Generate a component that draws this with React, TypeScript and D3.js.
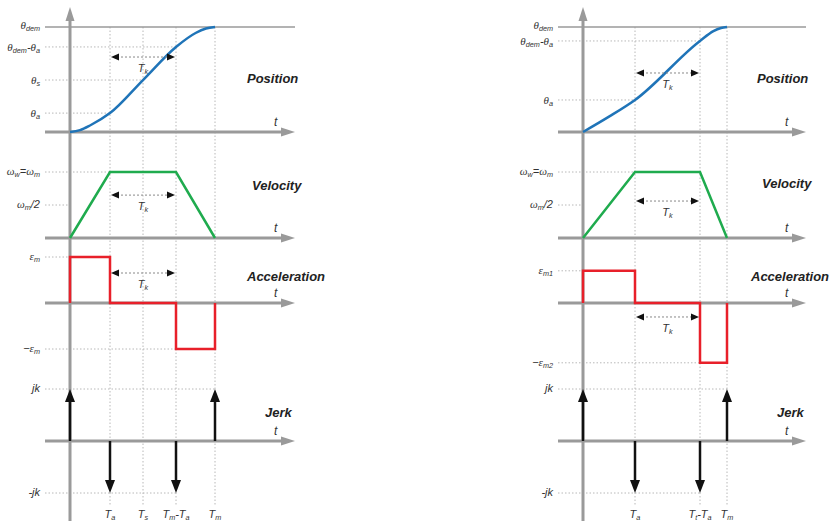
import React from "react";
import * as d3 from "d3";

// ---------- Left profile (symmetric) ----------
const leftTimes = [0, 1, 1.825, 2.65, 3.625];
const leftTimeLabels = ["", "T_{a}", "T_{s}", "T_{m}-T_{a}", "T_{m}"];
const leftPosT = [0, 0.25, 0.5, 1, 1.825, 2.65, 3.14, 3.4, 3.625];
const leftPosV = [0, 0.018, 0.062, 0.18, 0.495, 0.81, 0.943, 0.985, 1];
const leftPosTicks = [0.18, 0.495, 0.81, 1];
const leftPosTickEnds = [1, 1.825, 2.65, 3.625];
const leftPosLabels = ["θ_{a}", "θ_{s}", "θ_{dem}-θ_{a}", "θ_{dem}"];
const leftVelT = [0, 1, 2.65, 3.625];
const leftVelV = [0, 1, 1, 0];
const leftVelTicks = [1, 0.5];
const leftVelTickEnds = [1, 0];
const leftVelLabels = ["ω_{w}=ω_{m}", "ω_{m}/2"];
const leftAccT = [0, 0, 1, 1, 2.65, 2.65, 3.625, 3.625];
const leftAccV = [0, 1, 1, 0, 0, -1, -1, 0];
const leftAccTicks = [1, -1];
const leftAccTickEnds = [0, 2.65];
const leftAccLabels = ["ε_{m}", "−ε_{m}"];
const leftJerkT = [0, 1, 2.65, 3.625];
const leftJerkV = [1, -1, -1, 1];
const leftJerkTickEnds = [3.625, 2.65];
const leftTk = { from: 1, to: 2.65, pos: 0.714, vel: 0.65, acc: 0.652 };

// ---------- Right profile (asymmetric) ----------
const rightTimes = [0, 1.3, 2.925, 3.6];
const rightTimeLabels = ["", "T_{a}", "T_{t}-T_{a}", "T_{m}"];
const rightPosT = [0, 0.65, 1.3, 2.925, 3.26, 3.45, 3.6];
const rightPosV = [0, 0.146, 0.305, 0.867, 0.96, 0.99, 1];
const rightPosTicks = [0.305, 0.867, 1];
const rightPosTickEnds = [1.3, 2.925, 3.6];
const rightPosLabels = ["θ_{a}", "θ_{dem}-θ_{a}", "θ_{dem}"];
const rightVelT = [0, 1.3, 2.925, 3.6];
const rightVelV = [0, 1, 1, 0];
const rightVelTicks = [1, 0.5];
const rightVelTickEnds = [1.3, 0];
const rightVelLabels = ["ω_{w}=ω_{m}", "ω_{m}/2"];
const rightAccT = [0, 0, 1.3, 1.3, 2.925, 2.925, 3.6, 3.6];
const rightAccV = [0, 0.7, 0.7, 0, 0, -1.3, -1.3, 0];
const rightAccTicks = [0.7, -1.3];
const rightAccTickEnds = [0, 2.925];
const rightAccLabels = ["ε_{m1}", "−ε_{m2}"];
const rightJerkT = [0, 1.3, 2.925, 3.6];
const rightJerkV = [1, -1, -1, 1];
const rightJerkTickEnds = [3.6, 2.925];
const rightTk = { from: 1.3, to: 2.925, pos: 0.562, vel: 0.56, acc: -0.304 };

const jerkTicks = [1, -1];
const jerkLabels = ["jk", "-jk"];
const titles = ["Position", "Velocity", "Acceleration", "Jerk"];

const AXIS = "#9a9a9a";
const GRID = "#b8b8b8";
const FONT = "'Liberation Sans', Arial, sans-serif";
const GREEK = "'Liberation Serif', 'DejaVu Serif', serif";

function Label({ s, x, y, anchor = "end", size = 11 }: any) {
  const parts: { t: string; sub: boolean }[] = [];
  const re = /_\{([^}]*)\}/g;
  let last = 0;
  let m: RegExpExecArray | null;
  while ((m = re.exec(s))) {
    if (m.index > last) parts.push({ t: s.slice(last, m.index), sub: false });
    parts.push({ t: m[1], sub: true });
    last = m.index + m[0].length;
  }
  if (last < s.length) parts.push({ t: s.slice(last), sub: false });
  let cur = 0;
  const pieces: any[] = [];
  parts.forEach((p, i) => {
    const target = p.sub ? 2 : 0;
    const dy = target - cur;
    cur = target;
    if (p.sub) {
      pieces.push(
        <tspan key={i + "s"} dy={dy} fontSize={size * 0.66}>
          {p.t}
        </tspan>
      );
    } else {
      const chunks = p.t.split(/([θωε])/).filter((c) => c.length);
      chunks.forEach((c, j) => {
        const isGreek = /[θωε]/.test(c);
        pieces.push(
          <tspan key={i + "-" + j} dy={j === 0 ? dy : 0} fontFamily={isGreek ? GREEK : FONT} fontSize={size}>
            {c}
          </tspan>
        );
      });
    }
  });
  return (
    <text x={x} y={y} textAnchor={anchor} fontFamily={FONT} fontStyle="italic" fontSize={size} fill="#333">
      {pieces}
    </text>
  );
}

function Panel({ cfg }: any) {
  const x = d3.scaleLinear().domain([0, cfg.times[cfg.times.length - 1]]).range([cfg.x0, cfg.xm]);
  const yPos = d3.scaleLinear().domain([0, 1]).range([132, 27]);
  const yVel = d3.scaleLinear().domain([0, 1]).range([238, 172]);
  const yAcc = d3.scaleLinear().domain([0, 1]).range([303, 257]);
  const yJerk = d3.scaleLinear().domain([0, 1]).range([441, 389]);
  const ax0 = cfg.x0 - 25;
  const ax1 = cfg.axEnd;
  const labelX = cfg.x0 - 30;
  const gridEnd = 505;

  const posLine = d3
    .line<number>()
    .x((_, i) => x(cfg.posT[i]))
    .y((v) => yPos(v))
    .curve(d3.curveMonotoneX)(cfg.posV) as string;
  const velLine = d3
    .line<number>()
    .x((_, i) => x(cfg.velT[i]))
    .y((v) => yVel(v))(cfg.velV) as string;
  const accLine = d3
    .line<number>()
    .x((_, i) => x(cfg.accT[i]))
    .y((v) => yAcc(v))(cfg.accV) as string;

  const hAxis = (y: number, key: string) => (
    <g key={key}>
      <line x1={ax0} x2={ax1 - 10} y1={y} y2={y} stroke={AXIS} strokeWidth={3} />
      <path d={`M${ax1},${y} L${ax1 - 14},${y - 4.5} L${ax1 - 14},${y + 4.5} Z`} fill={AXIS} />
      <text x={ax1 - 21} y={y - 6} fontFamily={FONT} fontStyle="italic" fontSize={12} fill="#333">
        t
      </text>
    </g>
  );

  const tkArrow = (y: number, key: string) => {
    const a = x(cfg.tk.from);
    const b = x(cfg.tk.to);
    return (
      <g key={key}>
        <line x1={a + 7} x2={b - 7} y1={y} y2={y} stroke="#888" strokeWidth={1} strokeDasharray="2,2" />
        <path d={`M${a + 1},${y} L${a + 9},${y - 3.5} L${a + 9},${y + 3.5} Z`} fill="#111" />
        <path d={`M${b - 1},${y} L${b - 9},${y - 3.5} L${b - 9},${y + 3.5} Z`} fill="#111" />
        <Label s="T_{k}" x={(a + b) / 2} y={y + 15} anchor="middle" size={11} />
      </g>
    );
  };

  const dotted = (y: number, tEnd: number, key: string) => (
    <line key={key} x1={ax0} x2={x(tEnd)} y1={y} y2={y} stroke={GRID} strokeWidth={1} strokeDasharray="1.5,2" />
  );

  return (
    <g>
      {cfg.times.slice(1).map((t: number, i: number) => (
        <line key={"vg" + i} x1={x(t)} x2={x(t)} y1={27} y2={gridEnd} stroke={GRID} strokeWidth={1} strokeDasharray="1.5,2" />
      ))}
      {cfg.posTicks.map((v: number, i: number) =>
        v === 1 ? (
          <line key={"pd" + i} x1={ax0} x2={ax1} y1={yPos(v)} y2={yPos(v)} stroke={AXIS} strokeWidth={1.5} />
        ) : (
          dotted(yPos(v), cfg.posTickEnds[i], "pd" + i)
        )
      )}
      {cfg.velTicks.map((v: number, i: number) => dotted(yVel(v), cfg.velTickEnds[i], "vd" + i))}
      {cfg.accTicks.map((v: number, i: number) => dotted(yAcc(v), cfg.accTickEnds[i], "ad" + i))}
      {jerkTicks.map((v: number, i: number) => dotted(yJerk(v), cfg.jerkTickEnds[i], "jd" + i))}

      <line x1={cfg.x0} x2={cfg.x0} y1={18} y2={521} stroke={AXIS} strokeWidth={3} />
      <path d={`M${cfg.x0},7 L${cfg.x0 - 4.5},21 L${cfg.x0 + 4.5},21 Z`} fill={AXIS} />

      {hAxis(yPos(0), "hp")}
      {hAxis(yVel(0), "hv")}
      {hAxis(yAcc(0), "ha")}
      {hAxis(yJerk(0), "hj")}

      <path d={posLine} fill="none" stroke="#1f74b8" strokeWidth={2.5} />
      <path d={velLine} fill="none" stroke="#1fab4e" strokeWidth={2.5} />
      <path d={accLine} fill="none" stroke="#e8202a" strokeWidth={2.5} strokeLinejoin="miter" />

      {cfg.jerkT.map((t: number, i: number) => {
        const xx = x(t);
        const y0 = yJerk(0);
        const y1 = yJerk(cfg.jerkV[i]);
        const dir = y1 < y0 ? 1 : -1;
        return (
          <g key={"jk" + i}>
            <line x1={xx} x2={xx} y1={y0} y2={y1 + dir * 8} stroke="#111" strokeWidth={2.5} />
            <path d={`M${xx},${y1} L${xx - 5},${y1 + dir * 13} L${xx + 5},${y1 + dir * 13} Z`} fill="#111" />
          </g>
        );
      })}

      {tkArrow(yPos(cfg.tk.pos), "tkp")}
      {tkArrow(yVel(cfg.tk.vel), "tkv")}
      {tkArrow(yAcc(cfg.tk.acc), "tka")}

      {cfg.posTicks.map((v: number, i: number) => (
        <Label key={"pl" + i} s={cfg.posLabels[i]} x={labelX} y={yPos(v) + (v === 1 ? 2 : 4)} />
      ))}
      {cfg.velTicks.map((v: number, i: number) => (
        <Label key={"vl" + i} s={cfg.velLabels[i]} x={labelX} y={yVel(v) + 3} />
      ))}
      {cfg.accTicks.map((v: number, i: number) => (
        <Label key={"al" + i} s={cfg.accLabels[i]} x={labelX} y={yAcc(v) + 3} />
      ))}
      {jerkTicks.map((v: number, i: number) => (
        <Label key={"jl" + i} s={jerkLabels[i]} x={labelX} y={yJerk(v) + 3} />
      ))}

      {cfg.times.map((t: number, i: number) =>
        cfg.timeLabels[i] ? (
          <Label key={"tl" + i} s={cfg.timeLabels[i]} x={x(t)} y={518} anchor="middle" />
        ) : null
      )}

      {titles.map((tt, i) => (
        <text
          key={"ti" + i}
          x={cfg.titleX[i]}
          y={cfg.titleY[i]}
          fontFamily={FONT}
          fontStyle="italic"
          fontWeight="bold"
          fontSize={13}
          fill="#222"
        >
          {tt}
        </text>
      ))}
    </g>
  );
}

const leftCfg = {
  x0: 70, xm: 215, axEnd: 295,
  times: leftTimes, timeLabels: leftTimeLabels,
  posT: leftPosT, posV: leftPosV, posTicks: leftPosTicks, posTickEnds: leftPosTickEnds, posLabels: leftPosLabels,
  velT: leftVelT, velV: leftVelV, velTicks: leftVelTicks, velTickEnds: leftVelTickEnds, velLabels: leftVelLabels,
  accT: leftAccT, accV: leftAccV, accTicks: leftAccTicks, accTickEnds: leftAccTickEnds, accLabels: leftAccLabels,
  jerkT: leftJerkT, jerkV: leftJerkV, jerkTickEnds: leftJerkTickEnds,
  tk: leftTk,
  titleX: [247, 252, 247, 265], titleY: [83, 190, 281, 417],
};

const rightCfg = {
  x0: 583, xm: 727, axEnd: 806,
  times: rightTimes, timeLabels: rightTimeLabels,
  posT: rightPosT, posV: rightPosV, posTicks: rightPosTicks, posTickEnds: rightPosTickEnds, posLabels: rightPosLabels,
  velT: rightVelT, velV: rightVelV, velTicks: rightVelTicks, velTickEnds: rightVelTickEnds, velLabels: rightVelLabels,
  accT: rightAccT, accV: rightAccV, accTicks: rightAccTicks, accTickEnds: rightAccTickEnds, accLabels: rightAccLabels,
  jerkT: rightJerkT, jerkV: rightJerkV, jerkTickEnds: rightJerkTickEnds,
  tk: rightTk,
  titleX: [757, 762, 751, 777], titleY: [83, 188, 281, 417],
};

export default function App() {
  return (
    <svg width={833} height={523} style={{ position: "fixed", left: 0, top: 0, background: "#fff" }}>
      <rect width={833} height={523} fill="#fff" />
      <Panel cfg={leftCfg} />
      <Panel cfg={rightCfg} />
    </svg>
  );
}
